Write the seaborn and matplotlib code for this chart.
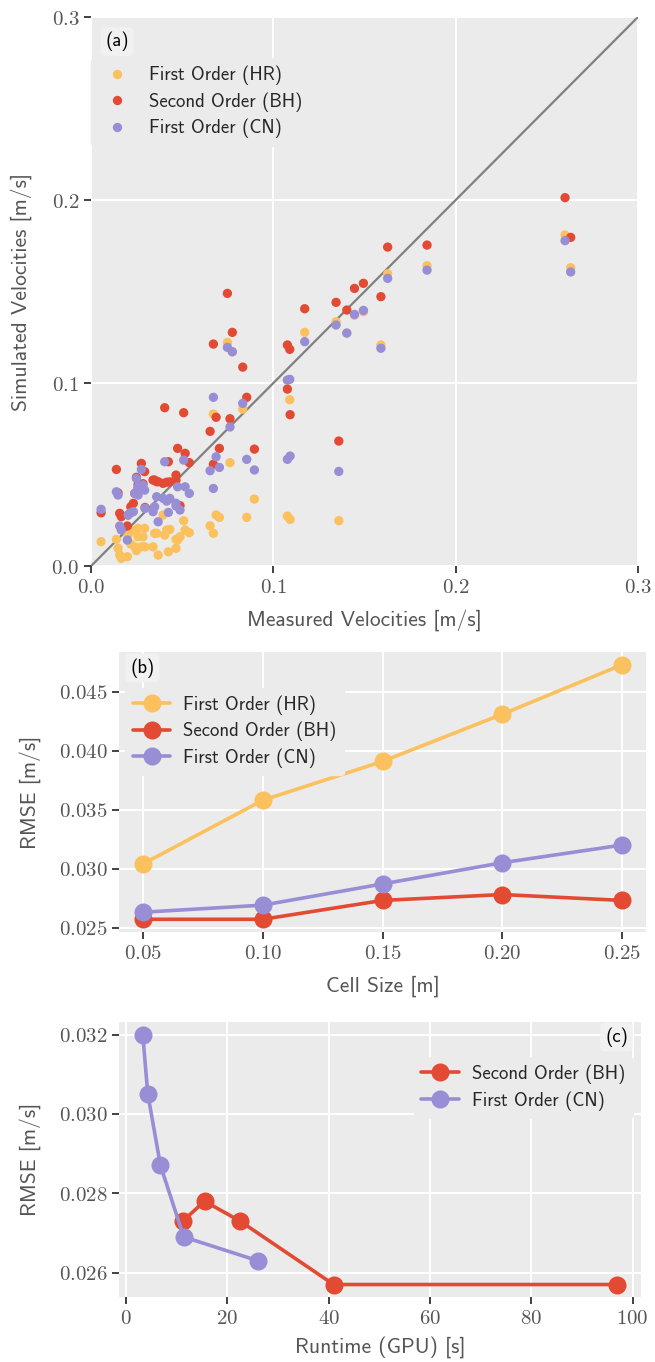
import numpy as np
import pandas as pd
import matplotlib
matplotlib.use('Agg')
import matplotlib.pyplot as plt
import matplotlib.ticker as mticker
import seaborn as sns

# (a) measured vs simulated velocities [m/s], one entry per probe
measured = [0.0055, 0.0139, 0.0148, 0.0157, 0.0166, 0.0199, 0.0203, 0.0218, 0.0232, 0.0240,
            0.0249, 0.0258, 0.0258, 0.0276, 0.0285, 0.0294, 0.0296, 0.0340, 0.0349, 0.0360,
            0.0368, 0.0395, 0.0404, 0.0415, 0.0424, 0.0432, 0.0466, 0.0466, 0.0475, 0.0488,
            0.0508, 0.0516, 0.0539, 0.0653, 0.0671, 0.0671, 0.0686, 0.0704, 0.0748, 0.0775,
            0.0762, 0.0832, 0.0854, 0.0896, 0.1077, 0.1090, 0.1077, 0.1092, 0.1172, 0.1344,
            0.1359, 0.1403, 0.1445, 0.1494, 0.1590, 0.1627, 0.1843, 0.2600, 0.2631]
sim_hr = [0.0133, 0.0146, 0.0097, 0.0060, 0.0042, 0.0051, 0.0169, 0.0120, 0.0193, 0.0105,
          0.0084, 0.0206, 0.0160, 0.0105, 0.0160, 0.0206, 0.0105, 0.0105, 0.0179, 0.0179,
          0.0060, 0.0279, 0.0169, 0.0197, 0.0078, 0.0200, 0.0146, 0.0097, 0.0142, 0.0160,
          0.0248, 0.0197, 0.0182, 0.0220, 0.0831, 0.0179, 0.0279, 0.0266, 0.1222, 0.1171,
          0.0565, 0.0858, 0.0266, 0.0366, 0.1016, 0.0909, 0.0273, 0.0255, 0.1277, 0.1335,
          0.0248, 0.1273, 0.1370, 0.1390, 0.1208, 0.1597, 0.1641, 0.1809, 0.1630]
sim_bh = [0.0291, 0.0528, 0.0400, 0.0288, 0.0270, 0.0219, 0.0279, 0.0324, 0.0343, 0.0397,
          0.0485, 0.0424, 0.0445, 0.0561, 0.0450, 0.0516, 0.0320, 0.0470, 0.0470, 0.0461,
          0.0461, 0.0452, 0.0865, 0.0458, 0.0570, 0.0460, 0.0497, 0.0470, 0.0643, 0.0330,
          0.0838, 0.0616, 0.0565, 0.0736, 0.1213, 0.0556, 0.0813, 0.0643, 0.1490, 0.1277,
          0.0805, 0.1087, 0.0922, 0.0639, 0.1208, 0.1184, 0.0967, 0.0827, 0.1406, 0.1441,
          0.0683, 0.1399, 0.1517, 0.1545, 0.1472, 0.1743, 0.1754, 0.2013, 0.1796]
sim_cn = [0.0310, 0.0406, 0.0388, 0.0219, 0.0197, 0.0142, 0.0279, 0.0291, 0.0297, 0.0397,
          0.0479, 0.0388, 0.0433, 0.0528, 0.0443, 0.0415, 0.0315, 0.0297, 0.0324, 0.0379,
          0.0242, 0.0370, 0.0570, 0.0355, 0.0293, 0.0370, 0.0343, 0.0328, 0.0433, 0.0306,
          0.0579, 0.0433, 0.0397, 0.0521, 0.0922, 0.0424, 0.0597, 0.0539, 0.1195, 0.1171,
          0.0760, 0.0889, 0.0583, 0.0525, 0.1016, 0.1020, 0.0583, 0.0601, 0.1226, 0.1317,
          0.0517, 0.1273, 0.1375, 0.1397, 0.1190, 0.1572, 0.1617, 0.1778, 0.1607]

# (b) RMSE against cell size
cell_size = [0.05, 0.10, 0.15, 0.20, 0.25]
rmse_hr = [0.0304, 0.0358, 0.0391, 0.0431, 0.0473]
rmse_bh = [0.0257, 0.0257, 0.0273, 0.0278, 0.0273]
rmse_cn = [0.0263, 0.0269, 0.0287, 0.0305, 0.0320]

# (c) RMSE against GPU runtime (same runs as in (b))
runtime_bh = [97.0, 41.0, 22.5, 15.5, 11.2]
runtime_cn = [26.0, 11.4, 6.8, 4.3, 3.3]

labels = ['First Order (HR)', 'Second Order (BH)', 'First Order (CN)']
colors = {'First Order (HR)': '#FBC15E',
          'Second Order (BH)': '#E24A33',
          'First Order (CN)': '#988ED5'}

sns.set_theme(style='darkgrid', rc={
    'axes.facecolor': '#EBEBEB',
    'grid.color': 'white',
    'grid.linewidth': 1.5,
    'xtick.bottom': True,
    'ytick.left': True,
    'xtick.major.size': 5,
    'ytick.major.size': 5,
    'xtick.major.width': 1.3,
    'ytick.major.width': 1.3,
    'xtick.color': '#333333',
    'ytick.color': '#333333',
    'xtick.labelcolor': '#555555',
    'ytick.labelcolor': '#555555',
    'axes.labelcolor': '#555555',
    'legend.facecolor': '#EBEBEB',
    'legend.edgecolor': '#EBEBEB',
    'legend.framealpha': 1.0,
})
plt.rcParams['font.family'] = ['cmss10', 'DejaVu Sans']
plt.rcParams['mathtext.fontset'] = 'cm'
plt.rcParams['axes.unicode_minus'] = False

df_a = pd.DataFrame({
    'measured': measured * 3,
    'simulated': sim_hr + sim_bh + sim_cn,
    'scheme': [labels[0]] * len(measured) + [labels[1]] * len(measured) + [labels[2]] * len(measured),
})
df_b = pd.DataFrame({
    'cell': cell_size * 3,
    'rmse': rmse_hr + rmse_bh + rmse_cn,
    'scheme': [labels[0]] * 5 + [labels[1]] * 5 + [labels[2]] * 5,
})
df_c = pd.DataFrame({
    'runtime': runtime_bh + runtime_cn,
    'rmse': rmse_bh + rmse_cn,
    'scheme': [labels[1]] * 5 + [labels[2]] * 5,
})


def fmt(spec):
    return mticker.FuncFormatter(lambda v, p: '$' + format(v, spec) + '$')


fig = plt.figure(figsize=(6.55, 13.62), dpi=100)
tick_fs = 15
label_fs = 15.5
leg_fs = 13.5
box = dict(boxstyle='round,pad=0.25', fc='#F1F1F1', ec='none')
leg_kw = dict(borderaxespad=0, fontsize=leg_fs, handletextpad=0.7, labelspacing=0.38)

## (a) scatter
ax1 = fig.add_axes([0.139, 0.5844, 0.835, 0.4031])
ax1.plot([0, 0.3], [0, 0.3], color='grey', lw=1.6, zorder=1)
sns.scatterplot(data=df_a, x='measured', y='simulated', hue='scheme', palette=colors,
                hue_order=labels, s=45, linewidth=0, ax=ax1, zorder=3)
ax1.set_xlim(0, 0.3)
ax1.set_ylim(0, 0.3)
ax1.xaxis.set_major_locator(mticker.MultipleLocator(0.1))
ax1.yaxis.set_major_locator(mticker.MultipleLocator(0.1))
ax1.xaxis.set_major_formatter(fmt('.1f'))
ax1.yaxis.set_major_formatter(fmt('.1f'))
ax1.set_xlabel('Measured Velocities [m/s]', fontsize=label_fs, labelpad=9)
ax1.set_ylabel('Simulated Velocities [m/s]', fontsize=label_fs, labelpad=14)
ax1.legend(loc='upper left', bbox_to_anchor=(0.0, 0.925), **leg_kw)
ax1.text(0.026, 0.955, '(a)', transform=ax1.transAxes, fontsize=leg_fs, va='center',
         color='black', bbox=box)

## (b) RMSE vs cell size
ax2 = fig.add_axes([0.1817, 0.3157, 0.8046, 0.2056])
sns.lineplot(data=df_b, x='cell', y='rmse', hue='scheme', palette=colors, hue_order=labels,
             marker='o', markersize=13, markeredgewidth=0, lw=2.6, sort=False,
             estimator=None, ax=ax2)
ax2.xaxis.set_major_locator(mticker.MultipleLocator(0.05))
ax2.yaxis.set_major_locator(mticker.MultipleLocator(0.005))
ax2.xaxis.set_major_formatter(fmt('.2f'))
ax2.yaxis.set_major_formatter(fmt('.3f'))
ax2.set_xlabel('Cell Size [m]', fontsize=label_fs, labelpad=9)
ax2.set_ylabel('RMSE [m/s]', fontsize=label_fs, labelpad=13)
ax2.legend(loc='upper left', bbox_to_anchor=(0.012, 0.873), **leg_kw)
ax2.text(0.021, 0.943, '(b)', transform=ax2.transAxes, fontsize=leg_fs, va='center',
         color='black', bbox=box)

## (c) RMSE vs runtime
ax3 = fig.add_axes([0.1817, 0.0477, 0.797, 0.2019])
sns.lineplot(data=df_c, x='runtime', y='rmse', hue='scheme', palette=colors,
             hue_order=labels[1:], marker='o', markersize=13, markeredgewidth=0, lw=2.6,
             sort=False, estimator=None, ax=ax3)
ax3.xaxis.set_major_locator(mticker.MultipleLocator(20))
ax3.yaxis.set_major_locator(mticker.MultipleLocator(0.002))
ax3.xaxis.set_major_formatter(fmt('.0f'))
ax3.yaxis.set_major_formatter(fmt('.3f'))
ax3.set_xlabel('Runtime (GPU) [s]', fontsize=label_fs, labelpad=6)
ax3.set_ylabel('RMSE [m/s]', fontsize=label_fs, labelpad=13)
ax3.legend(loc='upper right', bbox_to_anchor=(0.9837, 0.873), **leg_kw)
ax3.text(0.975, 0.945, '(c)', transform=ax3.transAxes, fontsize=leg_fs, va='center', ha='right',
         color='black', bbox=box)

for ax in (ax1, ax2, ax3):
    ax.tick_params(labelsize=tick_fs)
    for s in ax.spines.values():
        s.set_visible(False)

fig.savefig('out.png', dpi=100)
